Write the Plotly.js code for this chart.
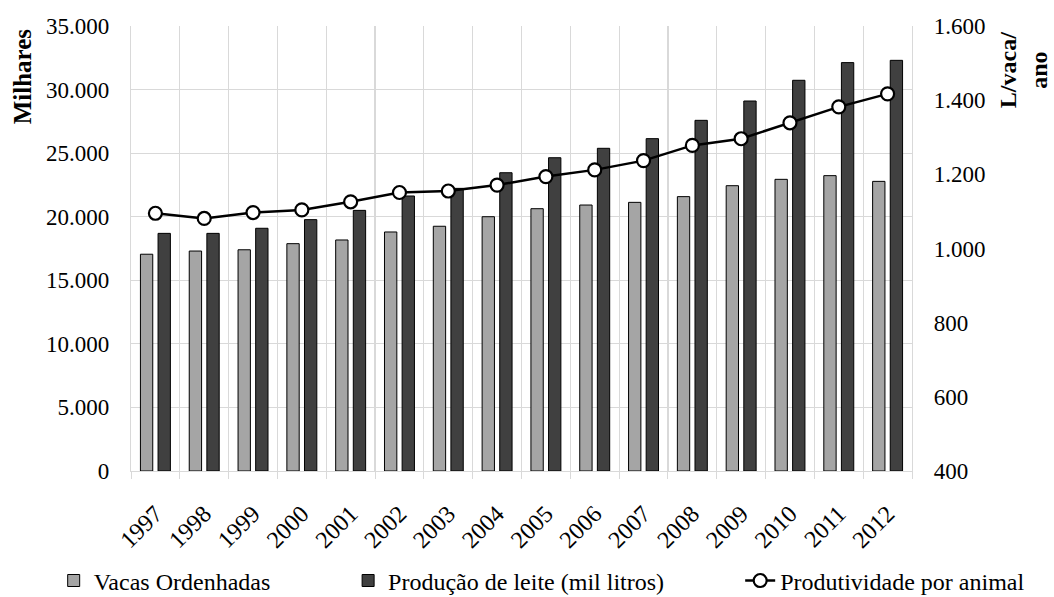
<!DOCTYPE html>
<html>
<head>
<meta charset="utf-8">
<script src="https://cdn.plot.ly/plotly-3.0.1.min.js"></script>
<style>html,body{margin:0;padding:0;background:#fff}#chart{width:1054px;height:597px}</style>
</head>
<body>
<div id="chart"></div>
<script>
const years = ["1997","1998","1999","2000","2001","2002","2003","2004","2005","2006","2007","2008","2009","2010","2011","2012"];
const vacasOrdenhadas = [17050,17300,17400,17880,18170,18800,19250,20000,20630,20920,21130,21580,22440,22940,23230,22780];
const producaoLeite = [18690,18690,19090,19770,20500,21630,22230,23460,24640,25380,26140,27580,29100,30730,32120,32300];
const produtividade = [1095,1081,1097,1104,1126,1151,1155,1171,1194,1212,1237,1278,1296,1339,1382,1417];
const leftTicks = [0,5000,10000,15000,20000,25000,30000,35000];
const rightTicks = [400,600,800,1000,1200,1400,1600];

const FONT = 'Liberation Serif, Times New Roman, serif';

const traces = [
  {type:'bar', name:'Vacas Ordenhadas', x:years, y:vacasOrdenhadas,
   marker:{color:'#a5a5a5', line:{color:'#000', width:1}}, legend:'legend', hoverinfo:'none'},
  {type:'bar', name:'Produção de leite (mil litros)', x:years, y:producaoLeite,
   marker:{color:'#404040', line:{color:'#000', width:1}}, legend:'legend2', hoverinfo:'none'},
  {type:'scatter', mode:'lines+markers', name:'Produtividade por animal', x:years, y:produtividade, yaxis:'y2',
   line:{color:'#000', width:2.5},
   marker:{symbol:'circle', size:13, color:'#fff', line:{color:'#000', width:2.2}}, legend:'legend3', hoverinfo:'none'}
];

const legendBase = {orientation:'h', yanchor:'middle', y:-0.247, xanchor:'left',
  font:{family:FONT, size:24, color:'#000'}, bgcolor:'rgba(0,0,0,0)', borderwidth:0};

const layout = {
  width:1054, height:597,
  margin:{l:131, r:142, t:26, b:126, autoexpand:false},
  paper_bgcolor:'#fff', plot_bgcolor:'#fff',
  separators:',.',
  font:{family:FONT, size:23, color:'#000'},
  barmode:'group', bargap:0.278, bargroupgap:0.3,
  showlegend:true,
  legend:Object.assign({}, legendBase, {x:-0.099}),
  legend2:Object.assign({}, legendBase, {x:0.278}),
  legend3:Object.assign({}, legendBase, {x:0.780}),
  xaxis:{type:'category', range:[-0.5,15.5], tickson:'boundaries', showgrid:true, gridcolor:'#d9d9d9', gridwidth:1.2,
    showline:true, linecolor:'#d9d9d9', linewidth:1.2, ticks:'outside', ticklen:7, tickcolor:'#d9d9d9',
    ticklabelstandoff:18, automargin:false,
    tickangle:-45, tickfont:{family:FONT, size:24, color:'#000'}, fixedrange:true},
  yaxis:{range:[0,35000], tickvals:leftTicks, tickformat:',d', showgrid:true, gridcolor:'#d9d9d9', gridwidth:1.2,
    zeroline:false, showline:true, linecolor:'#d9d9d9', linewidth:1.2, ticks:'', ticklabelstandoff:16, automargin:false,
    tickfont:{family:FONT, size:23, color:'#000'}, fixedrange:true},
  yaxis2:{range:[400,1600], tickvals:rightTicks, tickformat:',d', overlaying:'y', side:'right', showgrid:false,
    zeroline:false, showline:true, linecolor:'#d9d9d9', linewidth:1.2, ticks:'', ticklabelstandoff:16, automargin:false,
    tickfont:{family:FONT, size:23, color:'#000'}, fixedrange:true},
  annotations:[
    {text:'<b>Milhares</b>', xref:'paper', yref:'paper', x:-0.139, y:0.888, textangle:-90, showarrow:false,
     xanchor:'center', yanchor:'middle', font:{family:FONT, size:25, color:'#000'}},
    {text:'<b>L/vaca/<br>ano</b>', xref:'paper', yref:'paper', x:1.143, y:0.90, textangle:-90, showarrow:false,
     align:'center', xanchor:'center', yanchor:'middle', font:{family:FONT, size:24, color:'#000'}}
  ]
};

Plotly.newPlot('chart', traces, layout, {displayModeBar:false, staticPlot:true});
</script>
</body>
</html>
